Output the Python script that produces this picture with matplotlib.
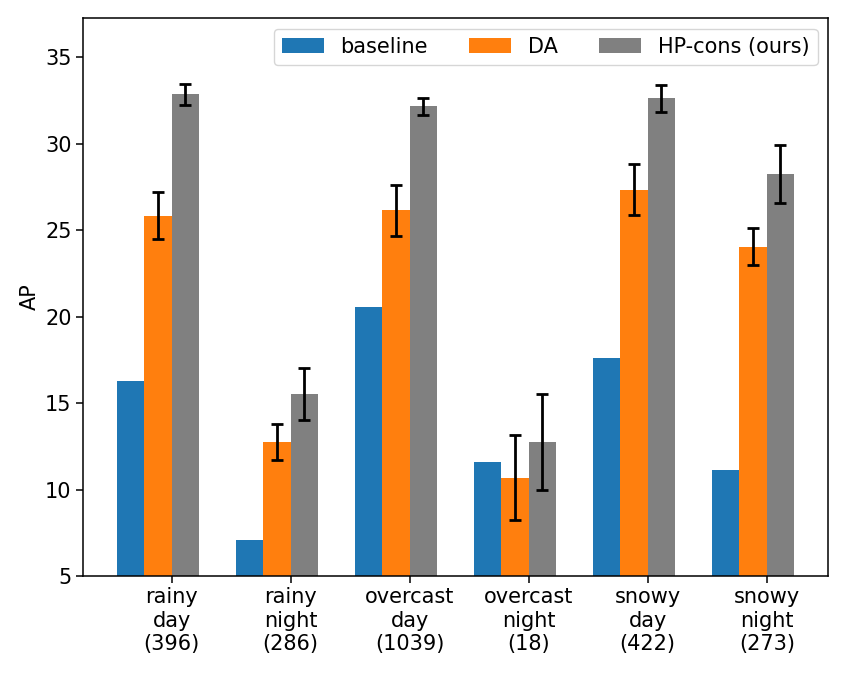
import numpy as np
import matplotlib
matplotlib.use('Agg')
import matplotlib.pyplot as plt

# ─── DATA ─────────────────────────────────────────────────────────────────────
CATEGORIES = ['rainy\nday\n(396)', 'rainy\nnight\n(286)', 'overcast\nday\n(1039)',
              'overcast\nnight\n(18)', 'snowy\nday\n(422)', 'snowy\nnight\n(273)']
BASELINE = [16.25, 7.06, 20.53, 11.61, 17.62, 11.15]
DA       = [25.83, 12.75, 26.14, 10.69, 27.34, 24.04]
DA_ERR   = [1.36, 1.04, 1.49, 2.48, 1.49, 1.06]
HP       = [32.84, 15.52, 32.15, 12.77, 32.61, 28.22]
HP_ERR   = [0.60, 1.48, 0.50, 2.78, 0.80, 1.68]
# ──────────────────────────────────────────────────────────────────────────────

FS = 15
W = 0.23


def run():
    plt.rcParams['font.size'] = FS
    plt.rcParams['axes.linewidth'] = 1.1

    fig = plt.figure(figsize=(8.51, 6.74), dpi=100)
    ax = fig.add_axes([0.0975, 0.1454, 0.8755, 0.8276])

    x = np.arange(len(CATEGORIES))
    ekw = dict(elinewidth=2.0, capthick=2.0, ecolor='black')

    ax.bar(x - 1.5 * W, BASELINE, W, color='tab:blue', label='baseline')
    ax.bar(x - 0.5 * W, DA, W, yerr=DA_ERR, capsize=4.5, color='tab:orange',
           label='DA', error_kw=ekw)
    ax.bar(x + 0.5 * W, HP, W, yerr=HP_ERR, capsize=4.5, color='gray',
           label='HP-cons (ours)', error_kw=ekw)

    ax.set_xticks(x)
    ax.set_xticklabels(CATEGORIES, fontsize=FS)
    ax.set_ylim(5, 37.25)
    ax.set_yticks([5, 10, 15, 20, 25, 30, 35])
    ax.tick_params(length=4.7, width=1.1, labelsize=FS)
    ax.set_ylabel('AP', fontsize=FS)
    ax.legend(loc='upper right', ncol=3, fontsize=FS)

    fig.savefig('out.png', dpi=100)


if __name__ == "__main__":
    run()
